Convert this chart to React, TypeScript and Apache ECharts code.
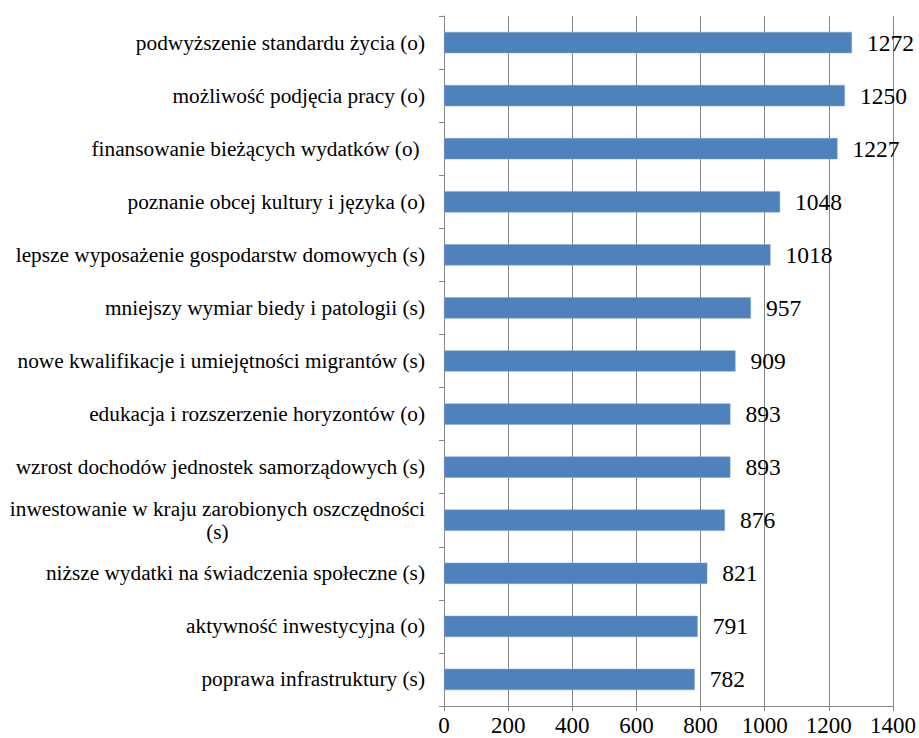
import React, { useEffect, useRef } from "react";
import * as echarts from "echarts";

const categories: string[] = [
  "podwyższenie standardu życia (o)",
  "możliwość podjęcia pracy (o)",
  "finansowanie bieżących wydatków (o) ",
  "poznanie obcej kultury i języka (o)",
  "lepsze wyposażenie gospodarstw domowych (s)",
  "mniejszy wymiar biedy i patologii (s)",
  "nowe kwalifikacje i umiejętności migrantów (s)",
  "edukacja i rozszerzenie horyzontów (o)",
  "wzrost dochodów jednostek samorządowych (s)",
  "inwestowanie w kraju zarobionych oszczędności\n(s)",
  "niższe wydatki na świadczenia społeczne (s)",
  "aktywność inwestycyjna (o)",
  "poprawa infrastruktury (s)",
];

const values: number[] = [1272, 1250, 1227, 1048, 1018, 957, 909, 893, 893, 876, 821, 791, 782];

const xTicks = { min: 0, max: 1400, interval: 200 };

const FONT = "Liberation Serif";
const CAT_SIZE = 21.3;

export default function App() {
  const ref = useRef<HTMLDivElement>(null);
  useEffect(() => {
    if (!ref.current) return;
    const chart = echarts.init(ref.current, undefined, { renderer: "svg" });
    chart.setOption({
      animation: false,
      grid: {
        left: 444,
        right: 26,
        top: 16,
        bottom: 32,
        containLabel: false,
        outerBoundsMode: "none",
      },
      xAxis: {
        type: "value",
        min: xTicks.min,
        max: xTicks.max,
        interval: xTicks.interval,
        axisLine: { show: true, lineStyle: { color: "#868686", width: 1 } },
        axisTick: { show: true, length: 5, lineStyle: { color: "#868686" } },
        splitLine: { show: true, lineStyle: { color: "#868686", width: 1 } },
        axisLabel: {
          fontFamily: FONT,
          fontSize: 23,
          color: "#000",
          margin: 8,
          hideOverlap: false,
          formatter: (v: number) => String(v),
        },
      },
      yAxis: {
        type: "category",
        inverse: true,
        data: categories,
        axisLine: { show: true, lineStyle: { color: "#868686", width: 1 } },
        axisTick: { show: true, length: 5, lineStyle: { color: "#868686" } },
        axisLabel: {
          fontFamily: FONT,
          fontSize: CAT_SIZE,
          color: "#000",
          margin: 19,
          interval: 0,
          formatter: (v: string) => {
            const parts = v.split("\n");
            if (parts.length === 1) return v;
            return `{a|${parts[0]}}\n{c|${parts[1]}}`;
          },
          rich: {
            a: { fontFamily: FONT, fontSize: CAT_SIZE, color: "#000", lineHeight: 23 },
            c: { fontFamily: FONT, fontSize: CAT_SIZE, color: "#000", lineHeight: 23, align: "center" },
          },
        },
      },
      series: [
        {
          type: "bar",
          data: values,
          barWidth: "40%",
          itemStyle: { color: "#4F81BD", borderColor: "#7FA3D3", borderWidth: 0.5 },
          label: {
            show: true,
            position: "right",
            distance: 15,
            fontFamily: FONT,
            fontSize: 23.5,
            color: "#000",
          },
        },
      ],
    });
    return () => chart.dispose();
  }, []);
  return (
    <div
      ref={ref}
      style={{ position: "absolute", left: 0, top: 0, width: 919, height: 738 }}
    />
  );
}
